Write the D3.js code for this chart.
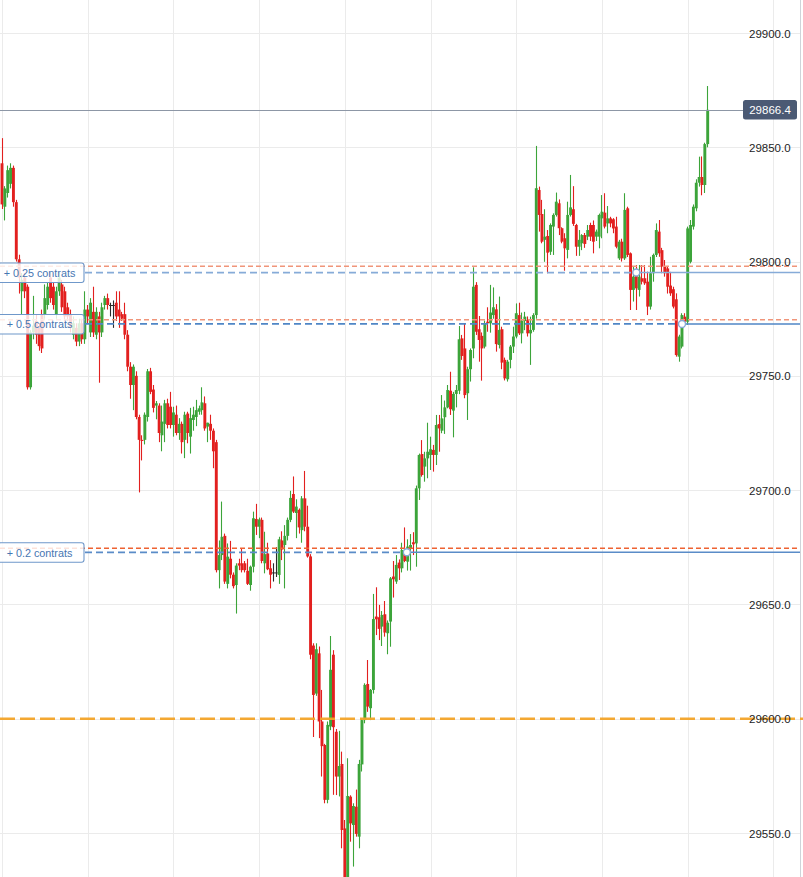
<!DOCTYPE html>
<html><head><meta charset="utf-8">
<script src="https://cdn.jsdelivr.net/npm/d3@7/dist/d3.min.js"></script>
<style>html,body{margin:0;padding:0;background:#fff;overflow:hidden}</style>
</head><body><svg id="c" width="803" height="877"></svg>
<script>
const opens=[29843,29824,29830,29834,29841,29826,29801,29787,29793,29789,
29745,29769,29774,29771,29777,29777,29781,29793,29789,29777,
29787,29790,29787,29780,29777,29768,29771,29765,29773,29766,
29779,29769,29778,29768,29776,29769,29781,29784,29781,29781,
29782,29779,29777,29777,29768,29754,29746,29750,29732,29722,
29722,29732,29752,29744,29737,29737,29724,29729,29738,29736.5,
29728.5,29733,29725,29729,29722,29733.5,29723.4,29730.7,29732,29734.3,
29735,29738,29727.8,29729,29726,29721,29665,29671.6,29680,29659,
29670,29663,29658.5,29668,29668,29668,29664.7,29658.5,29666.5,29687.4,
29684,29687,29668,29672.3,29665.8,29664,29664,29662.9,29678,29676,
29680,29687,29698.3,29690,29691.4,29682.5,29696.4,29684,29671,29632,
29611,29628.6,29598.8,29588.5,29564.5,29596.6,29628,29594.3,29574.7,29580.2,
29552,29529,29565.9,29553.5,29561.5,29548.4,29580,29599.4,29615.2,29604.6,
29612.6,29644.7,29644.4,29640.3,29645.7,29637.4,29642.5,29662.2,29660,29668.3,
29665.8,29673.5,29668.7,29674.6,29677.2,29676.7,29700.8,29715.8,29710.3,29713.9,
29715.4,29717.6,29715.4,29728.9,29726,29731.9,29736.2,29743.5,29734.8,29742.1,
29743.5,29766.4,29762,29742.4,29752.9,29762,29789.8,29770.4,29767.5,29762.8,
29773.7,29773,29776.6,29779.1,29763.5,29770.4,29757,29748.5,29757,29762.8,
29767.2,29776.6,29768.6,29774,29774.4,29768.6,29770.1,29776.6,29831.3,29820.8,
29809.5,29811.2,29804.3,29815.3,29820.4,29825.5,29814.6,29810.2,29805.1,29820.4,
29822.9,29816,29806.5,29808,29811.6,29810.9,29816,29816,29810.9,29810.9,
29818.9,29821.4,29816.7,29818.9,29818.5,29815.3,29801.4,29808.7,29801.4,29823.3,
29803.6,29787.6,29795.6,29787.6,29792.7,29792.7,29791.2,29780.3,29794.9,29802.9,
29813.1,29805,29797.8,29797,29789.5,29787.9,29783.5,29758.4,29762.8,29775.9,
29773.7,29799.9,29815.3,29823.3,29834.5,29837,29833.5,29851.4];
const highs=[29854,29833,29842,29843,29842,29827,29803,29795,29795,29790,
29770,29785,29777,29773,29779,29790,29791,29795,29791,29789,
29795,29792,29789,29782,29779,29776,29773,29775,29775,29787,
29781,29784,29789,29780,29778,29782,29785,29786,29782,29783,
29787,29787,29778,29782,29770,29756,29755,29752,29733,29724,
29734,29753,29753.5,29746,29739,29738,29737,29739.5,29740,29743,
29736.5,29737,29731.5,29730,29734.3,29734.3,29736,29736.5,29739.5,29737,
29745,29741,29729.5,29733,29727,29722,29678,29695,29681,29676.7,
29677.8,29664,29668,29670,29674.5,29669,29670,29667,29690.6,29694,
29688,29688,29681.8,29677,29669.4,29668,29675,29679.6,29682,29684.7,
29688,29699.7,29706,29696,29692,29697.4,29708.4,29693.2,29672,29633,
29633,29631.6,29612.6,29589,29598.8,29636.2,29630,29595.5,29594.7,29585.6,
29555.7,29582.7,29566.5,29563,29569,29582,29600,29615.5,29625.7,29613,
29654.6,29657.5,29649.8,29647.1,29651.5,29643,29662,29669,29671.6,29669.7,
29677,29683.7,29678.5,29680.8,29681.6,29702,29716,29721.9,29716.8,29729.5,
29723.4,29719.8,29732.9,29732.9,29741.6,29739.2,29746,29751.8,29743,29746,
29771.8,29767.9,29772.7,29754,29762,29797.5,29791,29776.2,29769,29774.2,
29780,29789.8,29788.7,29781.4,29784.7,29771.5,29758,29757,29763.5,29771.5,
29781.7,29782,29777.7,29778,29776,29775.9,29777.4,29850.6,29832.8,29827,
29822.9,29813.8,29816.7,29821.1,29830.2,29827.2,29815,29812.4,29826.2,29837.9,
29833,29816.5,29813.8,29812,29812.5,29816,29817,29818,29814,29821,
29829.1,29829.9,29824.3,29819.6,29819,29819.6,29809.5,29810,29829.9,29824,
29804,29797.8,29798.5,29798.5,29798.5,29798.5,29795.6,29802.1,29803.5,29816.7,
29818.2,29806,29800.7,29798,29795.5,29789,29786.1,29768,29777.4,29777.4,
29815.3,29818.2,29825,29836,29845.9,29846,29852,29876.8];
const lows=[29823,29818,29828,29832,29824,29800,29786,29777,29784,29744,
29744,29766,29764,29761,29760,29775,29779,29782,29779,29775,
29785,29778,29774,29774,29769,29766,29763,29763,29764,29764,
29773,29767,29767,29766,29747,29767,29779,29779,29776,29771,
29774,29771,29774,29766,29752,29740,29735,29731,29699,29713,
29720,29730,29742,29734,29731,29721,29717,29721,29727,29727,
29723.4,29724,29722,29716,29714,29720.5,29716,29726,29728,29733,
29733,29726,29721,29722,29709.6,29664,29657,29669.4,29659,29657,
29661.4,29657,29646,29665,29664,29664,29658.5,29656,29664,29680.4,
29679,29668,29663.6,29665,29657,29660,29662,29659,29669.4,29657,
29678,29686,29690,29679,29681,29677,29682,29670.5,29626,29592,
29610,29591.5,29574.7,29563,29563,29595,29566.7,29566.6,29566,29543.3,
29524,29524,29546.2,29535.3,29548.4,29543.3,29576.9,29598,29603,29599.4,
29611,29636.6,29634.4,29631.8,29635.9,29628.2,29631.5,29653,29659,29660.7,
29664,29668.5,29664.8,29664.8,29671.6,29666.5,29695.7,29705.9,29703.7,29705.2,
29708.8,29708.1,29711,29716.8,29724.9,29724.6,29735.8,29732.9,29723.1,29736.2,
29742,29757,29740.2,29730.7,29747.5,29757.7,29767.9,29756.2,29747.9,29762,
29769.3,29768.9,29775,29760.6,29762,29752.9,29748,29747.5,29753.3,29760,
29766.4,29767.9,29764.2,29770,29767.2,29754.8,29769.3,29775,29813.1,29808,
29799.9,29794.9,29802.9,29802.9,29819.7,29811.6,29808,29796,29801.4,29819.7,
29815.6,29802.5,29802.5,29805,29806,29809.4,29809,29803.6,29809,29805.8,
29810.2,29814.5,29812.4,29815,29812.4,29805.8,29800.7,29800,29800.7,29802,
29778.8,29782.5,29778.8,29784.7,29790,29789.8,29776.6,29779,29791.2,29802,
29802.1,29794.9,29793.4,29786,29785,29779.5,29758.4,29756.2,29762,29773,
29772.3,29799.2,29814,29822,29832.8,29829,29830,29850];
const closes=[29825,29832,29840,29841,29826,29801,29793,29792,29787,29745,
29769,29772,29768,29763,29762,29784,29789,29784,29781,29787,
29793,29780,29776,29776,29771,29773,29765,29773,29766,29779,
29776,29782,29769,29778,29769,29780,29784,29781,29781,29781,
29776,29776,29775,29768,29754,29746,29754,29732,29722,29721.5,
29733,29752,29743,29736,29738,29725,29730,29738,29728.5,29728.5,
29734,29725,29729,29721,29733,29725,29731.5,29733,29735,29735.8,
29738.4,29727,29729.5,29726,29717,29665,29671.6,29679.6,29660,29670.9,
29663,29658,29667,29667,29665,29665,29659,29666.5,29687.7,29684,
29687.2,29669,29672,29665.4,29663,29664,29664,29678.5,29674,29680,
29687,29696.6,29690.6,29692.8,29683.7,29696.4,29684,29671,29628,29610.4,
29630.4,29598.8,29588,29564.5,29597.3,29621.4,29596.3,29574.7,29579.3,29551.3,
29529,29566.2,29554.2,29561.8,29549.6,29580.2,29599.4,29614.8,29605.3,29612.6,
29643.6,29643.5,29639.3,29645.4,29637.7,29642,29661.4,29661,29667.3,29665.8,
29673.8,29669,29675.3,29676,29676.3,29700.8,29715.4,29706.6,29713.9,29716.8,
29717.9,29715.4,29728.5,29727,29731.4,29736.2,29743.8,29735.4,29742.1,29743.8,
29766,29758.7,29741.6,29752.9,29761.3,29789,29769.3,29765.7,29762,29773,
29773,29777.7,29780,29763.9,29770.1,29755.8,29748.9,29756.2,29762.8,29767.2,
29777.4,29768.6,29774.2,29775.9,29768.6,29770.1,29776.6,29832.1,29820.4,29808.7,
29810.9,29803.9,29816,29820.4,29826.2,29814.6,29808.7,29805.8,29820.4,29823.7,
29816.5,29806.5,29809.5,29811.6,29807.7,29813.8,29810.9,29808.7,29813.1,29820.4,
29821.8,29815.3,29818.9,29816.7,29814.5,29806.5,29808.7,29801.4,29822.6,29802.9,
29787.6,29793.4,29788.3,29793.4,29791.2,29790.5,29780.3,29794.9,29802.9,29813.8,
29803.6,29797.8,29794.9,29789,29786.1,29780.3,29759.1,29767.2,29776.6,29773.7,
29814.5,29816,29824,29834.5,29837,29833.5,29851.4,29866.4];

const priceTicks=[29550,29600,29650,29700,29750,29800,29850,29900];
const timeGridIdx=[0,30,60,90,120,150,180,210,240,270];
const orderLabels=["+ 0.25 contrats","+ 0.5 contrats","+ 0.2 contrats"];
const orderLimits=[29797.9,29774.6,29674.6];
const orderFills=[29795.2,29772.7,29672.8];
const orderFillIdx=[222,238,141.7];
const currentPrice=29866.4;
const keyLevel=29600;

const W=803,H=877;
const svg=d3.select("#c");
const x=d3.scaleLinear().domain([0,opens.length-1]).range([2,707.7]);
const y=d3.scaleLinear().domain([29550,29900]).range([833,33]);
const fmt=d3.format(".1f");

svg.append("rect").attr("width",W).attr("height",H).attr("fill","#fff");

// grid
const g=svg.append("g");
g.selectAll("line.h").data(priceTicks).join("line")
 .attr("x1",0).attr("x2",800).attr("y1",d=>Math.round(y(d))+0.5).attr("y2",d=>Math.round(y(d))+0.5)
 .attr("stroke","#ebebeb").attr("stroke-width",1);
g.selectAll("line.v").data(timeGridIdx).join("line")
 .attr("y1",0).attr("y2",H).attr("x1",d=>Math.round(x(d))+0.5).attr("x2",d=>Math.round(x(d))+0.5)
 .attr("stroke","#ebebeb").attr("stroke-width",1);
svg.append("line").attr("x1",800.5).attr("x2",800.5).attr("y1",0).attr("y2",H)
 .attr("stroke","#cfd3d9").attr("stroke-width",1);

// candles
const idx=d3.range(opens.length);
const col=i=>{const d=closes[i]-opens[i];return Math.abs(d)<0.3?"#2b2b2b":(d>0?"#3ca43a":"#e2201f");};
const cg=svg.append("g");
cg.selectAll("line").data(idx).join("line")
 .attr("x1",i=>Math.floor(x(i))+0.5).attr("x2",i=>Math.floor(x(i))+0.5)
 .attr("y1",i=>y(Math.max(highs[i],opens[i],closes[i])))
 .attr("y2",i=>y(Math.min(lows[i],opens[i],closes[i])))
 .attr("stroke",col).attr("stroke-width",1.1);
cg.selectAll("rect").data(idx).join("rect")
 .attr("x",i=>x(i)-1.45).attr("width",2.9)
 .attr("y",i=>y(Math.max(opens[i],closes[i])))
 .attr("height",i=>Math.max(1,Math.abs(y(opens[i])-y(closes[i]))))
 .attr("fill",col);

// key level
svg.append("line").attr("x1",0).attr("x2",W).attr("y1",y(keyLevel)).attr("y2",y(keyLevel))
 .attr("stroke","#f4a428").attr("stroke-width",2.6).attr("stroke-dasharray","15,5").attr("opacity",0.95);

// orders
const limitCol=["#f0957a","#f0957a","#ee6232"];
const fillCol=["#86abd8","#4f86c6","#5a8cc8"];
orderLabels.forEach((lab,k)=>{
  const yl=y(orderLimits[k]), yf=y(orderFills[k]), xf=x(orderFillIdx[k]);
  svg.append("line").attr("x1",0).attr("x2",797).attr("y1",yl).attr("y2",yl)
    .attr("stroke",limitCol[k]).attr("stroke-width",1.5).attr("stroke-dasharray","5,3");
  svg.append("line").attr("x1",85).attr("x2",xf).attr("y1",yf).attr("y2",yf)
    .attr("stroke",fillCol[k]).attr("stroke-width",1.7).attr("stroke-dasharray","7,4");
  svg.append("line").attr("x1",xf).attr("x2",800).attr("y1",yf).attr("y2",yf)
    .attr("stroke",fillCol[k]).attr("stroke-width",1.5);
  svg.append("circle").attr("cx",xf).attr("cy",yf).attr("r",3.5)
    .attr("fill","#fff").attr("stroke","#86a9d6").attr("stroke-width",1.4);
  const by=yf-9.5;
  svg.append("rect").attr("x",-2).attr("y",by).attr("width",86).attr("height",19.5).attr("rx",2.5)
    .attr("fill","#fff").attr("fill-opacity",0.82).attr("stroke","#6f98ca").attr("stroke-width",1.1);
  svg.append("text").attr("x",39.5).attr("y",yf+0.5).attr("text-anchor","middle")
    .attr("dominant-baseline","central").attr("font-family","'Liberation Sans',Arial,sans-serif")
    .attr("font-size","10.8px").attr("fill","#4676b2").text(lab);
});

// current price line
svg.append("line").attr("x1",0).attr("x2",743).attr("y1",Math.round(y(currentPrice))+0.5).attr("y2",Math.round(y(currentPrice))+0.5)
 .attr("stroke","#8d97a6").attr("stroke-width",1);

// price axis labels
svg.selectAll("text.p").data(priceTicks).join("text")
 .attr("x",749).attr("y",d=>y(d)+0.5).attr("dominant-baseline","central")
 .attr("font-family","'Liberation Sans',Arial,sans-serif").attr("font-size","11.5px")
 .attr("fill","#1e1e1e").text(d=>fmt(d));

// price tag
const ty=y(currentPrice);
svg.append("rect").attr("x",743).attr("y",ty-9.8).attr("width",54).attr("height",19.5).attr("rx",2.5)
 .attr("fill","#4b5a74");
svg.append("text").attr("x",770).attr("y",ty+0.5).attr("text-anchor","middle").attr("dominant-baseline","central")
 .attr("font-family","'Liberation Sans',Arial,sans-serif").attr("font-size","11.5px").attr("fill","#fff")
 .text(fmt(currentPrice));
</script></body></html>
